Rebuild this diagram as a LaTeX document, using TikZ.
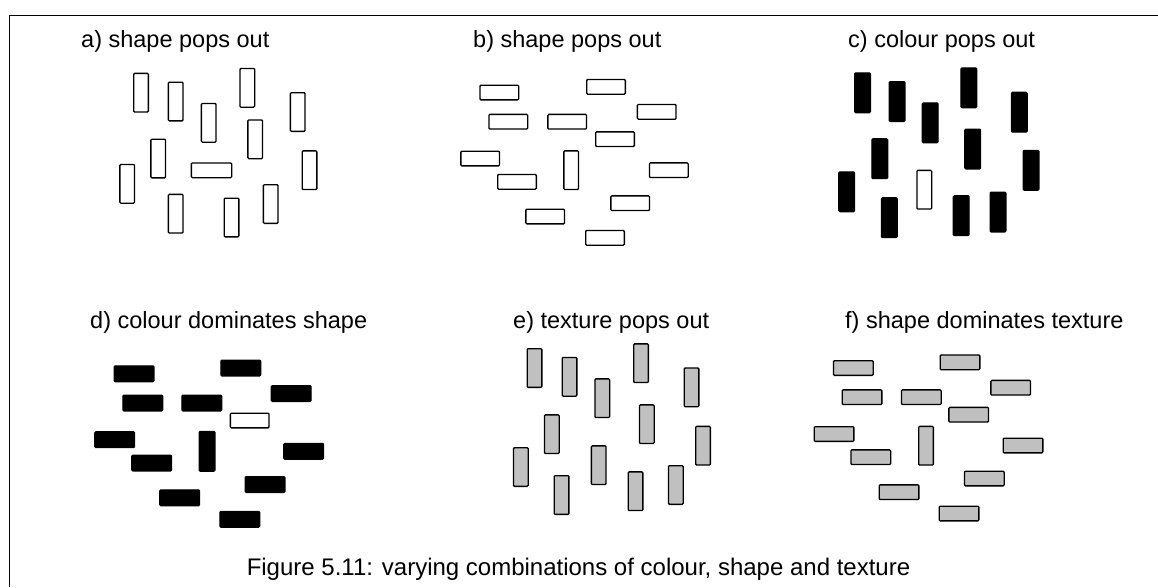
\documentclass[tikz,border=0pt]{standalone}
\usepackage{fontspec}
\setmainfont{Liberation Sans}
\definecolor{bargray}{RGB}{192,192,192}
\begin{document}
\begin{tikzpicture}[
  x=1pt, y=-1pt,
  bar/.style={draw, line width=1.3pt, rounded corners=1pt, inner sep=0pt},
  vbar/.style={bar, minimum width=14.7pt, minimum height=38.7pt},
  hbar/.style={bar, minimum width=38.7pt, minimum height=14.7pt},
  vblack/.style={bar, fill=black, minimum width=15.7pt, minimum height=39.7pt},
  hblack/.style={bar, fill=black, minimum width=39.7pt, minimum height=15.7pt},
  vgray/.style={vbar, fill=bargray},
  hgray/.style={hbar, fill=bargray},
  title/.style={anchor=base west, inner sep=0pt, font=\fontsize{23.5}{28}\selectfont},
  caption/.style={anchor=base, inner sep=0pt, font=\fontsize{24}{28}\selectfont}
]
\useasboundingbox (0,0) rectangle (1158,587);
\draw[line width=1pt] (9,587) -- (9,15) -- (1158,15);

% panel titles
\node[title] (ta) at (81,47.5) {a) shape pops out};
\node[title] (tb) at (473,47.5) {b) shape pops out};
\node[title] (tc) at (848,47.5) {c) colour pops out};
\node[title] (td) at (90,328) {d) colour dominates shape};
\node[title] (te) at (513,328) {e) texture pops out};
\node[title] (tf) at (845,328) {f) shape dominates texture};

% a) upright bars, one lying
\foreach \x/\y [count=\i] in {141/92.7, 175.7/101.5, 208.7/122.8, 247.3/87.8,
    297.7/112, 158.2/158.5, 255.2/139.3, 127.2/183.8, 309.5/170.2,
    175.7/213.7, 231.5/217.5, 270.7/204}
  \node[vbar] (a\i) at (\x,\y) {};
\node[hbar, minimum width=40.3pt] (atarget) at (211.5,170.3) {};

% b) lying bars, one upright
\foreach \x/\y [count=\i] in {499.3/92.5, 606/86.8, 656.7/111.8, 508.3/121.7,
    567.2/121.7, 615/139.2, 480.2/158.5, 668.8/170.2, 517/181.8,
    630.2/203.2, 545.2/216.5, 605/237.8}
  \node[hbar] (b\i) at (\x,\y) {};
\node[vbar] (btarget) at (571.2,170.2) {};

% c) black bars, one white
\foreach \x/\y [count=\i] in {862.5/92.8, 897/101.5, 930.2/122.8, 968.8/87.8,
    1019.3/112.2, 879.8/158.7, 972.7/149, 846.7/191.8, 1031/170.3,
    889.3/217.7, 961.2/215.7, 998/212}
  \node[vblack] (c\i) at (\x,\y) {};
\node[vbar] (ctarget) at (924.3,189.7) {};

% d) black lying bars, one white, one upright
\foreach \x/\y [count=\i] in {134/373.8, 240.8/368, 291.2/393.5, 142.8/403,
    201.8/403, 114.7/439.7, 303.7/451.3, 151.7/463, 265/484.5,
    179.7/497.8, 239.8/519.3}
  \node[hblack] (d\i) at (\x,\y) {};
\node[hbar] (dwhite) at (249.7,420.5) {};
\node[vblack] (dupright) at (207,451.3) {};

% e) grey upright bars
\foreach \x/\y [count=\i] in {534.5/368, 569.5/376.8, 602.3/398.2, 641/363.2,
    691.5/387.3, 551.8/434.2, 598.7/465.2, 646.8/424.2, 520.8/467,
    703/445.7, 561.5/495, 635.5/491.2, 675.8/485}
  \node[vgray] (e\i) at (\x,\y) {};

% f) grey lying bars, one upright
\foreach \x/\y [count=\i] in {853.3/368, 960/362.3, 1010.7/387.7, 862/397.2,
    921.3/397.2, 968.7/414.7, 834/434, 1023/445.5, 870.8/457.2,
    984.3/478.5, 899/492.2, 959/513.5}
  \node[hgray, minimum width=39.7pt] (f\i) at (\x,\y) {};
\node[vgray] (ftarget) at (926,445.7) {};

\node[caption] (cap) at (578.5,575) {Figure 5.11: varying combinations of colour, shape and texture};
\end{tikzpicture}
\end{document}
